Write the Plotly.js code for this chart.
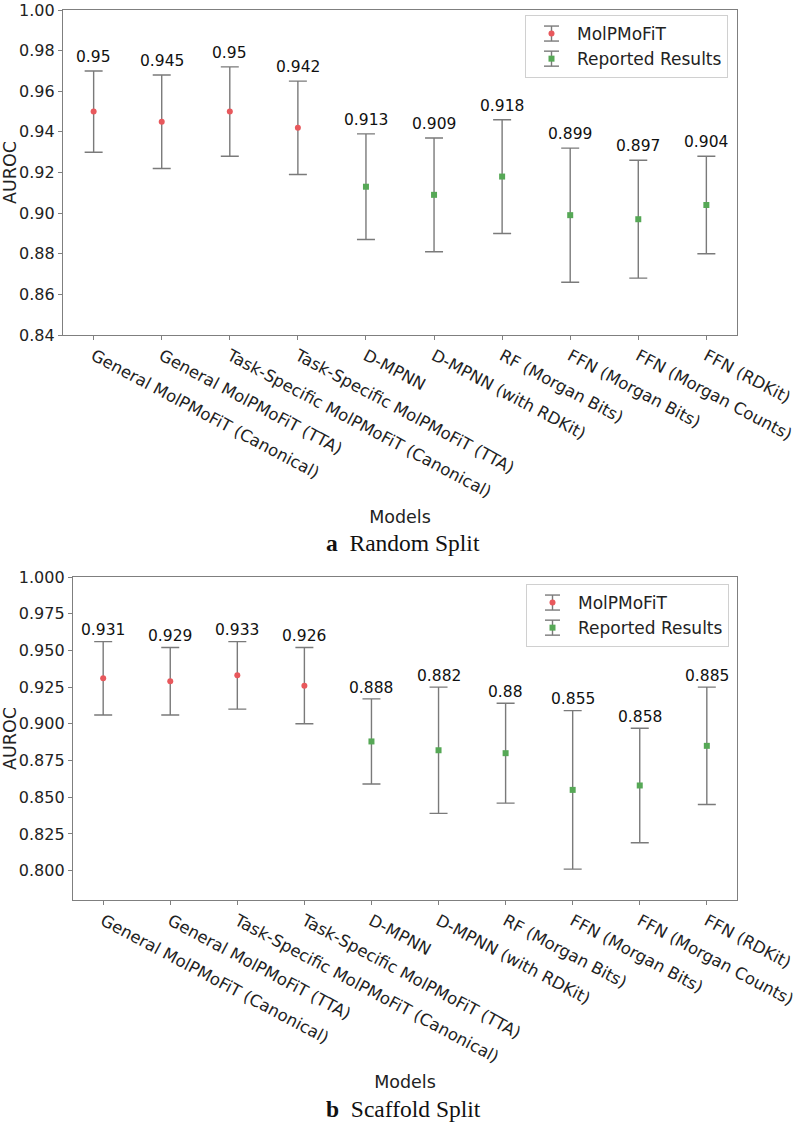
<!DOCTYPE html>
<html>
<head>
<meta charset="utf-8">
<script src="https://cdn.plot.ly/plotly-3.0.1.min.js"></script>
<style>html,body{margin:0;padding:0;background:#fff;}#chart{width:797px;height:1129px;}</style>
</head>
<body>
<div id="chart"></div>
<script>
// ---- data ----
const models = ["General MolPMoFiT (Canonical)", "General MolPMoFiT (TTA)", "Task-Specific MolPMoFiT (Canonical)", "Task-Specific MolPMoFiT (TTA)", "D-MPNN", "D-MPNN (with RDKit)", "RF (Morgan Bits)", "FFN (Morgan Bits)", "FFN (Morgan Counts)", "FFN (RDKit)"];
const molpModels = models.slice(0, 4);
const reportedModels = models.slice(4);

// Random split
const randomMolp = [0.95, 0.945, 0.95, 0.942];
const randomMolpErr = [0.020, 0.023, 0.022, 0.023];
const randomReported = [0.913, 0.909, 0.918, 0.899, 0.897, 0.904];
const randomReportedErr = [0.026, 0.028, 0.028, 0.033, 0.029, 0.024];

// Scaffold split
const scaffoldMolp = [0.931, 0.929, 0.933, 0.926];
const scaffoldMolpErr = [0.025, 0.023, 0.023, 0.026];
const scaffoldReported = [0.888, 0.882, 0.88, 0.855, 0.858, 0.885];
const scaffoldReportedErr = [0.029, 0.043, 0.034, 0.054, 0.039, 0.040];

const randomTicks = [0.84, 0.86, 0.88, 0.90, 0.92, 0.94, 0.96, 0.98, 1.00];
const scaffoldTicks = [0.800, 0.825, 0.850, 0.875, 0.900, 0.925, 0.950, 0.975, 1.000];

// ---- styling ----
const W = 797, H = 1129;
const FONT = "DejaVu Sans, sans-serif";
const RED = "#e8585c", GREEN = "#56a856", ERRC = "#7a7a7a", AXC = "#7f7f7f";

function errTrace(xs, ys, es, color, symbol, name, xa, ya, leg) {
  return {
    type: "scatter", mode: "markers", x: xs, y: ys, name: name,
    xaxis: xa, yaxis: ya, legend: leg,
    marker: {color: color, size: 6, symbol: symbol},
    error_y: {type: "data", array: es, visible: true, color: ERRC, thickness: 1.4, width: 9},
    hoverinfo: "x+y"
  };
}

const traces = [
  errTrace(molpModels, randomMolp, randomMolpErr, RED, "circle", "MolPMoFiT", "x", "y", "legend"),
  errTrace(reportedModels, randomReported, randomReportedErr, GREEN, "square", "Reported Results", "x", "y", "legend"),
  errTrace(molpModels, scaffoldMolp, scaffoldMolpErr, RED, "circle", "MolPMoFiT", "x2", "y2", "legend2"),
  errTrace(reportedModels, scaffoldReported, scaffoldReportedErr, GREEN, "square", "Reported Results", "x2", "y2", "legend2")
];

// value labels above each error bar
const annotations = [];
function addLabels(xs, ys, es, xref, yref) {
  xs.forEach((m, i) => {
    annotations.push({
      x: m, y: ys[i] + es[i] + 0.005, xref: xref, yref: yref,
      text: String(ys[i]), showarrow: false, yanchor: "bottom", xanchor: "center",
      yshift: -7, font: {family: FONT, size: 15.5, color: "#111"}
    });
  });
}
addLabels(molpModels, randomMolp, randomMolpErr, "x", "y");
addLabels(reportedModels, randomReported, randomReportedErr, "x", "y");
addLabels(molpModels, scaffoldMolp, scaffoldMolpErr, "x2", "y2");
addLabels(reportedModels, scaffoldReported, scaffoldReportedErr, "x2", "y2");

// captions
annotations.push({xref: "paper", yref: "paper", x: 403 / W, y: 1 - 543 / H, xanchor: "center", yanchor: "middle",
  showarrow: false, text: "<b>a</b>  Random Split", font: {family: "Liberation Serif, Times New Roman, serif", size: 23.5, color: "#111"}});
annotations.push({xref: "paper", yref: "paper", x: 403 / W, y: 1 - 1109 / H, xanchor: "center", yanchor: "middle",
  showarrow: false, text: "<b>b</b>  Scaffold Split", font: {family: "Liberation Serif, Times New Roman, serif", size: 23.5, color: "#111"}});

function xAxis(dom, anchor) {
  return {
    domain: dom, anchor: anchor, type: "category", categoryorder: "array", categoryarray: models,
    range: [-0.45, 9.45], tickangle: 28, showline: true, mirror: true, linecolor: AXC, linewidth: 1.2,
    ticks: "outside", ticklen: 4, tickcolor: AXC, showgrid: false, zeroline: false,
    tickfont: {family: FONT, size: 16.5, color: "#222"},
    title: {text: "Models", font: {family: FONT, size: 17.5, color: "#222"}, standoff: 10},
    automargin: false
  };
}
function yAxis(dom, anchor, rng, tv, fmt) {
  return {
    domain: dom, anchor: anchor, range: rng, tickmode: "array", tickvals: tv, tickformat: fmt,
    showline: true, mirror: true, linecolor: AXC, linewidth: 1.2, ticklabeloverflow: "allow",
    ticks: "outside", ticklen: 4, tickcolor: AXC, showgrid: false, zeroline: false,
    tickfont: {family: FONT, size: 16, color: "#222"},
    title: {text: "AUROC", font: {family: FONT, size: 17.5, color: "#222"}, standoff: 6},
    automargin: false
  };
}

const legendStyle = (x, y) => ({
  x: x, y: y, xanchor: "right", yanchor: "top", xref: "paper", yref: "paper",
  bgcolor: "rgba(0,0,0,0)", bordercolor: "#d0d0d0", borderwidth: 1,
  font: {family: FONT, size: 17, color: "#222"}, tracegroupgap: 0, itemwidth: 41
});

const layout = {
  width: W, height: H, margin: {l: 0, r: 0, t: 0, b: 0},
  paper_bgcolor: "#fff", plot_bgcolor: "#fff", showlegend: true,
  xaxis: xAxis([63 / W, 737 / W], "y"),
  yaxis: yAxis([1 - 335 / H, 1 - 10 / H], "x", [0.84, 1.0], randomTicks, ".2f"),
  xaxis2: xAxis([73 / W, 737 / W], "y2"),
  yaxis2: yAxis([1 - 900 / H, 1 - 577 / H], "x2", [0.78, 1.0], scaffoldTicks, ".3f"),
  legend: legendStyle(728 / W, 1 - 15 / H),
  legend2: legendStyle(729 / W, 1 - 584 / H),
  annotations: annotations
};

const gd = document.getElementById("chart");
Plotly.newPlot(gd, traces, layout, {displayModeBar: false, staticPlot: true}).then(() => {
  // legend error-bar glyphs drawn behind each legend marker (decoration only)
  const box = gd.getBoundingClientRect();
  const shapes = [];
  gd.querySelectorAll(".legendpoints path.scatterpts").forEach(p => {
    const r = p.getBoundingClientRect();
    const cx = r.left + r.width / 2 - box.left, cy = r.top + r.height / 2 - box.top;
    const s = {type: "line", xref: "paper", yref: "paper", line: {color: ERRC, width: 1.4}, layer: "above"};
    shapes.push(Object.assign({}, s, {x0: cx / W, x1: cx / W, y0: 1 - (cy - 7.5) / H, y1: 1 - (cy + 7.5) / H}));
    shapes.push(Object.assign({}, s, {x0: (cx - 7.5) / W, x1: (cx + 7.5) / W, y0: 1 - (cy - 7.5) / H, y1: 1 - (cy - 7.5) / H}));
    shapes.push(Object.assign({}, s, {x0: (cx - 7.5) / W, x1: (cx + 7.5) / W, y0: 1 - (cy + 7.5) / H, y1: 1 - (cy + 7.5) / H}));
  });
  return Plotly.relayout(gd, {shapes: shapes});
});
</script>
</body>
</html>
